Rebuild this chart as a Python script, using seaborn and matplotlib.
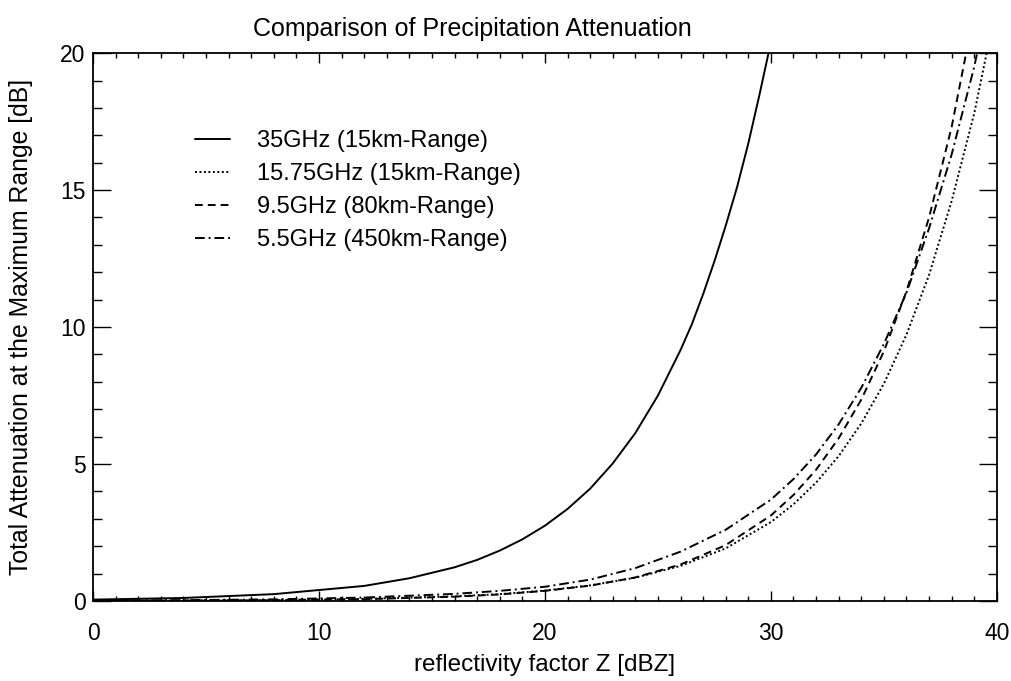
import numpy as np
import pandas as pd
import matplotlib
matplotlib.use("Agg")
import matplotlib.pyplot as plt
import seaborn as sns

# ---- data ----
z_35 = [0, 4, 8, 12, 14, 16, 17, 18, 19, 20, 21, 22, 23, 24, 25, 26, 26.5, 27,
        27.5, 28, 28.5, 29, 29.5, 30, 30.5]
a_35 = [0.05, 0.11, 0.25, 0.55, 0.83, 1.23, 1.50, 1.84, 2.25, 2.75, 3.36, 4.10,
        5.02, 6.13, 7.50, 9.16, 10.1, 11.2, 12.4, 13.7, 15.1, 16.7, 18.5, 20.4,
        22.6]

z_low = [0, 4, 8, 12, 16, 18, 20, 22, 24, 26, 28, 30, 31, 32, 33, 34, 35, 36,
         37, 38, 39, 40]
a_1575 = [0.007, 0.015, 0.033, 0.075, 0.17, 0.25, 0.38, 0.57, 0.85, 1.28, 1.92,
          2.88, 3.53, 4.32, 5.29, 6.48, 7.93, 9.72, 11.9, 14.6, 17.8, 21.8]
a_95 = [0.005, 0.012, 0.028, 0.066, 0.156, 0.24, 0.37, 0.56, 0.86, 1.33, 2.04,
        3.12, 3.87, 4.79, 5.94, 7.35, 9.11, 11.3, 14.0, 17.3, 21.5, 26.6]
a_55 = [0.014, 0.03, 0.06, 0.125, 0.26, 0.37, 0.52, 0.78, 1.20, 1.80, 2.60,
        3.70, 4.45, 5.35, 6.45, 7.78, 9.38, 11.25, 13.6, 16.3, 19.5, 23.4]

labels = ["35GHz (15km-Range)", "15.75GHz (15km-Range)",
          "9.5GHz (80km-Range)", "5.5GHz (450km-Range)"]

title = "Comparison of Precipitation Attenuation"
xlabel = "reflectivity factor Z [dBZ]"
ylabel = "Total Attenuation at the Maximum Range [dB]"
xticks = [0, 10, 20, 30, 40]
yticks = [0, 5, 10, 15, 20]

# ---- style ----
sns.set_theme(style="ticks")
plt.rcParams["font.family"] = ["Liberation Sans", "DejaVu Sans"]

fig = plt.figure(figsize=(10.12, 6.81), dpi=100)
ax = fig.add_axes([0.092, 0.1175, 0.893, 0.8045])

series = [
    (z_35, a_35, labels[0], "-"),
    (z_low, a_1575, labels[1], (0, (1, 1.3))),
    (z_low, a_95, labels[2], (0, (4, 2.6))),
    (z_low, a_55, labels[3], (0, (5, 2, 1, 2))),
]
for zx, ay, lab, ls in series:
    df = pd.DataFrame({"z": zx, "a": ay})
    sns.lineplot(data=df, x="z", y="a", ax=ax, color="black", linewidth=1.4,
                 linestyle=ls, label=lab)

ax.set_xlim(0, 40)
ax.set_ylim(0, 20)
ax.set_xticks(xticks)
ax.set_yticks(yticks)
ax.set_xticks(np.arange(0, 41, 1), minor=True)
ax.set_yticks(np.arange(0, 21, 1), minor=True)

ax.tick_params(axis="both", which="both", direction="in", top=True, right=True,
               colors="black", width=1.0)
ax.tick_params(axis="x", which="major", length=7.5, pad=15, labelsize=16.5)
ax.tick_params(axis="x", which="minor", length=3.8)
ax.tick_params(axis="y", which="major", length=13, pad=5.5, labelsize=16.5)
ax.tick_params(axis="y", which="minor", length=6.5)
for s in ax.spines.values():
    s.set_visible(True)
    s.set_color("black")
    s.set_linewidth(1.3)

ax.set_title(title, fontsize=18, pad=12, color="black", x=0.42)
ax.set_xlabel(xlabel, fontsize=17.5, color="black")
ax.set_ylabel(ylabel, fontsize=17.8, color="black")
ax.xaxis.set_label_coords(0.5, -0.097)
ax.yaxis.set_label_coords(-0.066, 0.50)

leg = ax.legend(loc="upper left", bbox_to_anchor=(0.113, 0.859), frameon=False,
                fontsize=17, handlelength=1.48, handletextpad=1.14,
                labelspacing=0.46, borderpad=0, borderaxespad=0)
for t in leg.get_texts():
    t.set_color("black")

fig.savefig("out.png", dpi=100)
